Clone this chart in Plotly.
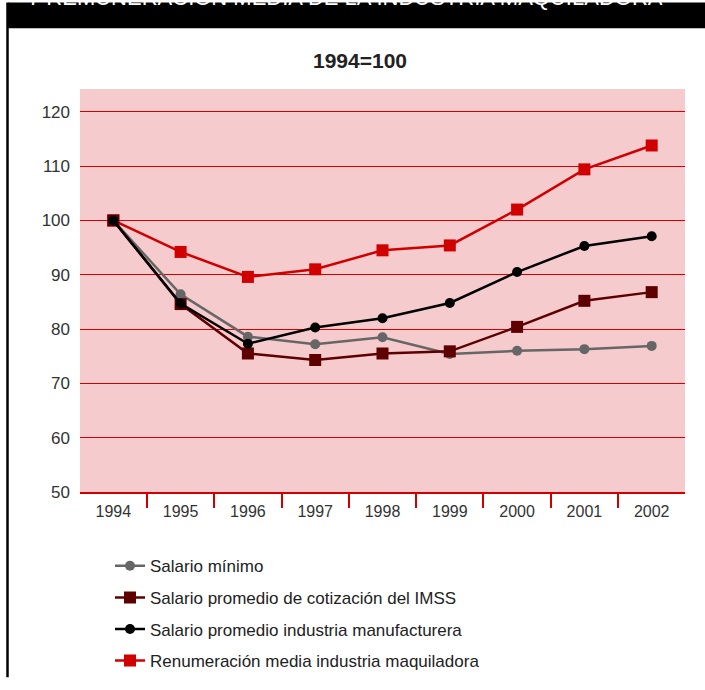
import plotly.graph_objects as go

years = [1994, 1995, 1996, 1997, 1998, 1999, 2000, 2001, 2002]
year_labels = [str(y) for y in years]

salario_minimo = [100, 86.4, 78.6, 77.2, 78.5, 75.4, 76.0, 76.3, 76.9]
salario_imss = [100, 84.6, 75.5, 74.3, 75.5, 75.9, 80.4, 85.2, 86.8]
salario_manuf = [100, 84.7, 77.3, 80.3, 82.0, 84.8, 90.5, 95.3, 97.1]
remun_maquila = [100, 94.2, 89.6, 91.0, 94.5, 95.4, 102.0, 109.4, 113.8]

names = [
    "Salario mínimo",
    "Salario promedio de cotización del IMSS",
    "Salario promedio industria manufacturera",
    "Renumeración media industria maquiladora",
]

FONT = "Liberation Sans, Arial, sans-serif"
RED = "#d10000"

fig = go.Figure()

fig.add_trace(go.Scatter(
    x=years, y=remun_maquila, name=names[3], mode="lines+markers",
    line=dict(color=RED, width=2.5), marker=dict(symbol="square", size=12, color=RED),
    legendrank=4, legendgroup="d"))
fig.add_trace(go.Scatter(
    x=years, y=salario_minimo, name=names[0], mode="lines+markers",
    line=dict(color="#666666", width=2.5), marker=dict(symbol="circle", size=10, color="#666666"),
    legendrank=1, legendgroup="a"))
fig.add_trace(go.Scatter(
    x=years, y=salario_imss, name=names[1], mode="lines+markers",
    line=dict(color="#5e0000", width=2.5), marker=dict(symbol="square", size=12, color="#5e0000"),
    legendrank=2, legendgroup="b"))
fig.add_trace(go.Scatter(
    x=years, y=salario_manuf, name=names[2], mode="lines+markers",
    line=dict(color="#000000", width=2.5), marker=dict(symbol="circle", size=10, color="#000000"),
    legendrank=3, legendgroup="c"))

S = 0.983  # observed vertical scale of the photographed page
W, H = 705, 690
L, R = 80, 20
T = round(87 / S, 1)
B = round(H - 492 / S, 1)
pw, ph = W - L - R, H - T - B

def px_x(p):
    return (p - L) / pw

def px_y(t):
    return (H - B - t / S) / ph

fig.update_layout(
    width=W, height=H,
    margin=dict(l=L, r=R, t=T, b=B),
    paper_bgcolor="white",
    plot_bgcolor="#f5cbce",
    font=dict(family=FONT, size=16, color="#333333"),
    showlegend=True,
    legend=dict(
        orientation="v", x=px_x(110), y=px_y(558 * S), xanchor="left", yanchor="top",
        font=dict(family=FONT, size=17, color="#222222"),
        tracegroupgap=6.5, traceorder="grouped", itemwidth=30,
        bgcolor="rgba(0,0,0,0)",
    ),
    xaxis=dict(
        type="linear", range=[1993.505, 2002.495],
        tickvals=years, ticktext=year_labels, ticks="",
        showgrid=False, zeroline=False,
        showline=True, linecolor=RED, linewidth=2,
        tickfont=dict(size=16, color="#333333"), ticklabelstandoff=4,
        minor=dict(tick0=1994.5, dtick=1, ticks="outside", ticklen=14,
                   tickcolor=RED, tickwidth=1.5, showgrid=False),
    ),
    yaxis=dict(
        range=[50, 124.2], tickvals=[50, 60, 70, 80, 90, 100, 110, 120],
        showgrid=True, gridcolor="rgb(215,0,0)", gridwidth=1.3, zeroline=False,
        showline=False, ticks="", ticklen=0, ticklabelstandoff=9,
        tickfont=dict(size=17, color="#333333"),
    ),
    shapes=[
        dict(type="rect", xref="paper", yref="paper",
             x0=px_x(8), x1=px_x(705), y0=px_y(26), y1=px_y(0),
             fillcolor="black", line=dict(width=0), layer="above"),
        dict(type="line", xref="paper", yref="paper",
             x0=px_x(7.5), x1=px_x(7.5), y0=px_y(0), y1=px_y(690 * S),
             line=dict(color="black", width=2.5)),
    ],
    annotations=[
        dict(text="7 REMUNERACIÓN MEDIA DE LA INDUSTRIA MAQUILADORA",
             xref="paper", yref="paper", x=px_x(26), y=px_y(-5),
             xanchor="left", yanchor="middle", showarrow=False,
             font=dict(family=FONT, size=22, color="white")),
        dict(text="<b>1994=100</b>", xref="paper", yref="paper",
             x=px_x(360), y=px_y(58), xanchor="center", yanchor="middle",
             showarrow=False, font=dict(family=FONT, size=21, color="#222222")),
    ],
)

post = (
    "var de=document.documentElement, b=document.body;"
    "de.style.margin='0'; de.style.padding='0'; de.style.overflow='hidden';"
    "b.style.margin='0'; b.style.padding='0'; b.style.overflow='hidden';"
)
fig.write_html("out.html", config={"displayModeBar": False}, post_script=post)
